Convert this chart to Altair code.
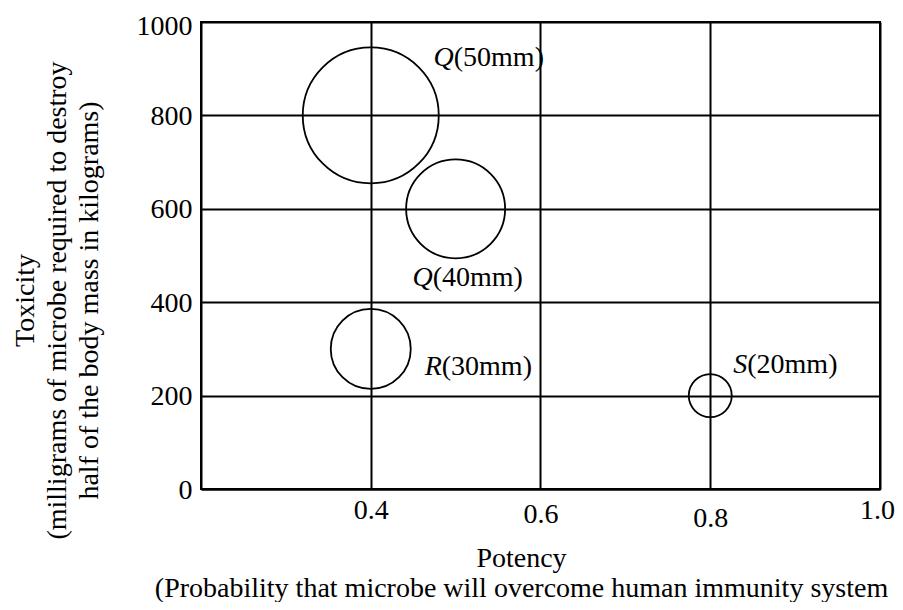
import altair as alt
import pandas as pd

# ---- data ----
names = ["Q", "Q", "R", "S"]
size_mm = [50, 40, 30, 20]
potency = [0.4, 0.5, 0.4, 0.8]
toxicity = [800, 600, 300, 200]
rest = ["(50mm)", "(40mm)", "(30mm)", "(20mm)"]
x_ticks = [0.4, 0.6, 0.8, 1.0]
y_ticks = [0, 200, 400, 600, 800, 1000]

df = pd.DataFrame(dict(name=names, mm=size_mm, potency=potency,
                       toxicity=toxicity, rest=rest))

FONT = "Liberation Serif"
FS = 28
# pixel offsets (style) of each label from its circle
label_offsets = {50: (83, -57), 40: (-23, 69), 30: (71, 18), 20: (37, -31)}

# the reference's tick labels sit at slightly uneven depths
x_label_pad = {
    "condition": [
        {"test": "abs(datum.value - 0.6) < 0.01", "value": 11},
        {"test": "abs(datum.value - 0.8) < 0.01", "value": 15},
    ],
    "value": 7,
}
x_label_off = {
    "condition": {"test": "abs(datum.value - 1.0) < 0.01", "value": -3},
    "value": 0,
}
y_label_off = {
    "condition": {"test": "datum.value == 1000", "value": 4},
    "value": 1,
}

x = alt.X("potency:Q",
          scale=alt.Scale(domain=[0.2, 1.0], nice=False, zero=False),
          axis=alt.Axis(values=x_ticks, format=".1f", labelFlush=False,
                        title=["Potency",
                               "(Probability that microbe will overcome human immunity system"],
                        titleX=320, titleY=69, titleBaseline="middle",
                        titleAlign="center", titleLineHeight=30,
                        labelPadding=x_label_pad, labelOffset=x_label_off,
                        grid=True))
y = alt.Y("toxicity:Q",
          scale=alt.Scale(domain=[0, 1000], nice=False),
          axis=alt.Axis(values=y_ticks, format="d",
                        title=["Toxicity",
                               "(milligrams of microbe required to destroy",
                               "half of the body mass in kilograms)"],
                        titleX=-176, titleY=278, titleBaseline="middle",
                        titleAlign="center", titleAngle=270,
                        titleLineHeight=32, labelPadding=9,
                        labelOffset=y_label_off, grid=True))

base = alt.Chart(df)

circles = base.mark_point(shape="circle", filled=False, stroke="black",
                          strokeWidth=1.8, opacity=1).encode(
    x=x, y=y,
    size=alt.Size("mm:Q",
                  scale=alt.Scale(type="linear", domain=[20, 30, 40, 50],
                                  range=[1849, 6400, 9801, 18496]),
                  legend=None))

layers = [circles]
for mm, (dx, dy) in label_offsets.items():
    sub = base.transform_filter(alt.datum.mm == mm)
    layers.append(sub.mark_text(font=FONT, fontSize=FS, fontStyle="italic",
                                align="right", baseline="middle",
                                dx=dx, dy=dy, color="black").encode(
        x=x, y=y, text="name:N"))
    layers.append(sub.mark_text(font=FONT, fontSize=FS, align="left",
                                baseline="middle", dx=dx, dy=dy,
                                color="black").encode(
        x=x, y=y, text="rest:N"))

chart = alt.layer(*layers).properties(
    width=679, height=467,
    padding={"left": 193, "top": 14, "right": 15, "bottom": 113},
    autosize="none",
    background="white",
).configure_view(
    stroke="black", strokeWidth=2
).configure_axis(
    domainColor="black", domainWidth=2,
    gridColor="black", gridWidth=2, gridOpacity=1,
    ticks=False,
    labelFont=FONT, labelFontSize=FS, labelColor="black",
    titleFont=FONT, titleFontSize=FS, titleColor="black",
    titleFontWeight="normal",
)

chart.save("out.html", embed_options={"renderer": "svg", "actions": False})
